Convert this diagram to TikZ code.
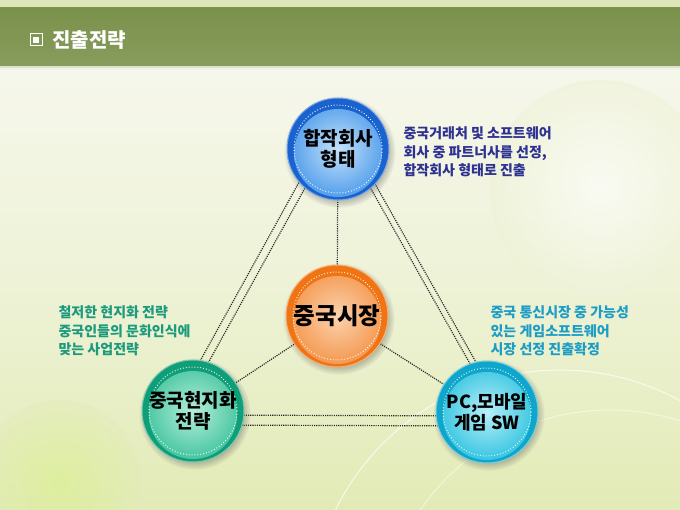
\documentclass[tikz,border=0pt]{standalone}
\usepackage{fontspec}
\setmainfont{Noto Sans CJK KR}
\newfontfamily\kr{Noto Sans CJK KR}
\usetikzlibrary{calc,shadows,backgrounds}
\definecolor{bgtop}{HTML}{F6F7EC}
\definecolor{bgmid}{HTML}{EEF2D6}
\definecolor{bgbot}{HTML}{E2EBB6}
\definecolor{bandA}{HTML}{7A914B}
\definecolor{bandB}{HTML}{889C5C}
\definecolor{stripA}{HTML}{DCE6B8}
\definecolor{blueR}{HTML}{1A62CE}
\definecolor{blueM}{HTML}{4C9AEA}
\definecolor{blueL}{HTML}{C4E2FA}
\definecolor{oraR}{HTML}{EE7414}
\definecolor{oraM}{HTML}{F4954A}
\definecolor{oraL}{HTML}{FBD2AE}
\definecolor{grnR}{HTML}{0F9E78}
\definecolor{grnM}{HTML}{3FC39C}
\definecolor{grnL}{HTML}{B6EEDB}
\definecolor{cyaR}{HTML}{0EA6CA}
\definecolor{cyaM}{HTML}{2FC3E0}
\definecolor{cyaL}{HTML}{B8EEF8}
\definecolor{txtNavy}{HTML}{2E3192}
\definecolor{txtTeal}{HTML}{1B9A7D}
\definecolor{txtCyan}{HTML}{1C9DC6}
\tikzset{
  bubble/.style n args={3}{circle, minimum size=102pt, inner sep=0pt,
    fill=#1, draw=#1!55!white, line width=1pt,
    circular drop shadow={shadow xshift=1.5pt, shadow yshift=-2.5pt, opacity=0.35, fill=black!70},
    font=\kr\bfseries\fontsize{19}{21}\selectfont, align=center, text=black,
    path picture={
      \shade[inner color=#3, outer color=#2] (path picture bounding box.center) ++(0pt,-4pt) circle (44pt);
      \draw[white, dotted, line width=0.9pt] (path picture bounding box.center) circle (44pt);
    }},
  link/.style={dash pattern=on 1.1pt off 1.1pt, line width=1.2pt, black!85},
  note/.style={anchor=west, align=left, font=\kr\bfseries\fontsize{14}{18.5}\selectfont},
}
\begin{document}
\begin{tikzpicture}[x=1pt,y=-1pt]
\useasboundingbox (0,0) rectangle (680,510);
\begin{pgfonlayer}{background}
% background
\shade[top color=bgtop, bottom color=bgbot, middle color=bgmid] (0,66) rectangle (680,510);
\shade[inner color=white, outer color=bgmid, opacity=0.6] (600,190) circle (110);
\shade[inner color=bgbot!85!green!70!yellow, outer color=bgbot, opacity=0.35] (60,480) circle (80);
\draw[white, opacity=0.7, line width=1pt] (560,620) circle (250);
\draw[white, opacity=0.5, line width=1pt] (610,640) circle (230);
\end{pgfonlayer}
% header
\fill[stripA] (0,0) rectangle (680,8);
\shade[top color=bandA, bottom color=bandB] (0,8) rectangle (680,66);
\fill[white!70!bandB] (0,66) rectangle (680,68);
\fill[white!88!bandB] (0,68) rectangle (680,70);
\node[draw=white, line width=1pt, minimum size=12pt, inner sep=0pt] (icon) at (36,40) {};
\fill[white] ($(icon.center)+(-3.2pt,-3.2pt)$) rectangle ($(icon.center)+(3.2pt,3.2pt)$);
\node[anchor=west, text=white, font=\kr\bfseries\fontsize{20}{22}\selectfont, inner sep=0pt] (title) at (52,40) {진출전략};
% circles
\node[bubble={blueR}{blueM}{blueL}] (top) at (338,149) {합작회사\\형태};
\node[bubble={oraR}{oraM}{oraL}, font=\kr\bfseries\fontsize{23.5}{26}\selectfont] (mid) at (337,316) {중국시장};
\node[bubble={grnR}{grnM}{grnL}] (bl) at (193,411) {중국현지화\\전략};
\node[bubble={cyaR}{cyaM}{cyaL}, font=\kr\bfseries\fontsize{18}{21}\selectfont] (br) at (487,412) {PC,모바일\\게임 SW};
% connectors
\begin{pgfonlayer}{background}
\draw[link] ($(top)!10pt!-90:(bl)$) -- ($(bl)!10pt!90:(top)$);
\draw[link] ($(top)!18pt!-90:(bl)$) -- ($(bl)!18pt!90:(top)$);
\draw[link] ($(top)!9pt!90:(br)$) -- ($(br)!9pt!-90:(top)$);
\draw[link] ($(top)!15pt!90:(br)$) -- ($(br)!15pt!-90:(top)$);
\draw[link] ([yshift=-4pt]bl.center) -- ([yshift=-4pt]br.center);
\draw[link] ([yshift=-14pt]bl.center) -- ([yshift=-14pt]br.center);
\draw[link] (mid) -- (top);
\draw[link] (mid) -- (bl);
\draw[link] (mid) -- (br);
\end{pgfonlayer}
% notes
\node[note, text=txtNavy] (n1) at (400,152) {중국거래처 및 소프트웨어\\회사 중 파트너사를 선정,\\합작회사 형태로 진출};
\node[note, text=txtTeal] (n2) at (55,331) {철저한 현지화 전략\\중국인들의 문화인식에\\맞는 사업전략};
\node[note, text=txtCyan] (n3) at (487,331) {중국 통신시장 중 가능성\\있는 게임소프트웨어\\시장 선정 진출확정};
\end{tikzpicture}
\end{document}
